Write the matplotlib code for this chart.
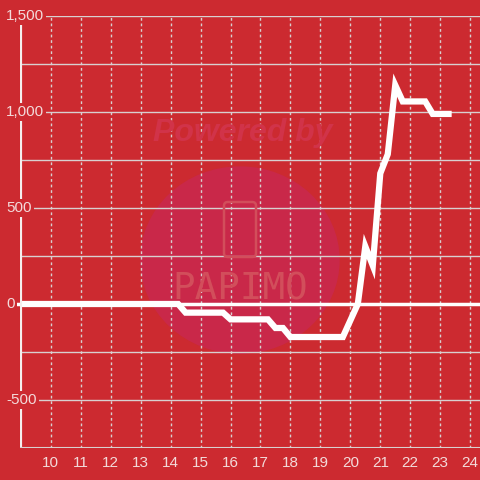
#!/usr/bin/env python3
"""Red step chart with white line - recreation"""
import matplotlib
matplotlib.use("Agg")
import matplotlib.pyplot as plt
from matplotlib.patches import Circle, FancyBboxPatch

# hour of day and value
hours = [8.97, 14.25, 14.5, 15.75, 16.0, 17.25, 17.5, 17.75, 18.0, 19.75,
         20.25, 20.5, 20.75, 21.0, 21.25, 21.5, 21.75, 22.5, 22.75, 23.28]
values = [0, 0, -45, -45, -80, -80, -125, -125, -172, -172,
          0, 300, 200, 680, 780, 1140, 1055, 1055, 990, 990]

x_ticks = list(range(10, 25))
y_labels = [-500, 0, 500, 1000, 1500]

BG = "#CC2A30"
TXT = "#F3DADA"
GRID = "#D8D0D0"

fig = plt.figure(figsize=(4.8, 4.8), dpi=100)
fig.patch.set_facecolor(BG)
ax = fig.add_axes([20 / 480, 32 / 480, 460 / 480, 432 / 480])
ax.set_facecolor(BG)
ax.set_xlim(8.97, 24.33)
ax.set_ylim(-750, 1500)

# watermark
ax.add_patch(Circle((0.478, 0.435), 0.217, transform=ax.transAxes,
                    facecolor="#C92849", edgecolor="none", zorder=0))
fig.text(243 / 480, 1 - 133 / 480, "Powered by", fontsize=23, fontweight="bold",
         fontstyle="italic", color="#D13349", ha="center", va="center",
         family="Liberation Sans", zorder=1)
fig.text(240 / 480, 1 - 289 / 480, "PAPIMO", fontsize=27, color="#D24E5B",
         ha="center", va="center", family="DejaVu Sans Mono", zorder=1)
fig.patches.append(FancyBboxPatch((224 / 480, 1 - 257 / 480), 32 / 480, 55 / 480,
                                  boxstyle="round,pad=0,rounding_size=0.008",
                                  transform=fig.transFigure, facecolor="none",
                                  edgecolor="#D24E5B", linewidth=1.8, zorder=1))

# grid
for v in range(-500, 1501, 250):
    if v == 0:
        continue
    ax.axhline(v, color=GRID, linewidth=1, zorder=2)
for h in x_ticks:
    ax.axvline(h, color=GRID, linewidth=1, linestyle=(0, (2, 2)), zorder=2)
ax.plot([-3 / 460, 1], [0, 0], color="white", linewidth=2.5, zorder=3,
        transform=ax.get_yaxis_transform(), clip_on=False)

ax.plot(hours, values, color="white", linewidth=4.5, solid_joinstyle="miter", zorder=4)

for s in ax.spines.values():
    s.set_visible(False)
ax.axvline(8.97, color="#F5EEEE", linewidth=3, zorder=5)
ax.axhline(-750, color=GRID, linewidth=1.5, zorder=5)

ax.set_xticks([])
ax.set_yticks([])
for h in x_ticks:
    ax.text(h, -790, str(h), ha="center", va="top", fontsize=11,
            color=TXT, family="Liberation Sans")
for v in y_labels:
    ax.text(-14 / 460, v, f"{v:,}", transform=ax.get_yaxis_transform(),
            ha="left", va="center", fontsize=11, color=TXT, family="Liberation Sans",
            bbox=dict(facecolor=BG, edgecolor="none", pad=1.5), zorder=6, clip_on=False)

fig.savefig("out.png", dpi=100, facecolor=BG)
